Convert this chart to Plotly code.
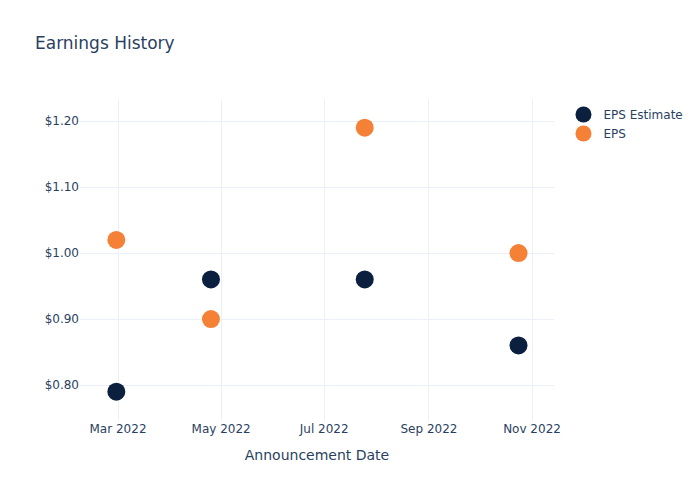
import plotly.graph_objects as go

dates = ["2022-02-28", "2022-04-25", "2022-07-25", "2022-10-24"]
eps_estimate = [0.79, 0.96, 0.96, 0.86]
eps_actual = [1.02, 0.90, 1.19, 1.00]

fig = go.Figure()
fig.add_trace(go.Scatter(x=dates, y=eps_estimate, mode="markers", name="EPS Estimate",
                         marker=dict(color="#0b1f3f", size=18)))
fig.add_trace(go.Scatter(x=dates, y=eps_actual, mode="markers", name="EPS",
                         marker=dict(color="#f58137", size=18)))

fig.update_layout(
    template="plotly_white",
    width=700, height=500,
    font=dict(family="DejaVu Sans", color="#2a3f5f"),
    title=dict(text="Earnings History", x=0.05, y=0.925, font=dict(size=17)),
    xaxis=dict(title=dict(text="Announcement Date"), tickformat="%b %Y", dtick="M2",
               tick0="2022-03-01", range=["2022-02-06 12:00", "2022-11-14"]),
    yaxis=dict(tickformat="$.2f", dtick=0.1, range=[0.747, 1.232]),
    legend=dict(x=1.02, y=1, yanchor="top"),
)
fig.write_html("out.html")
